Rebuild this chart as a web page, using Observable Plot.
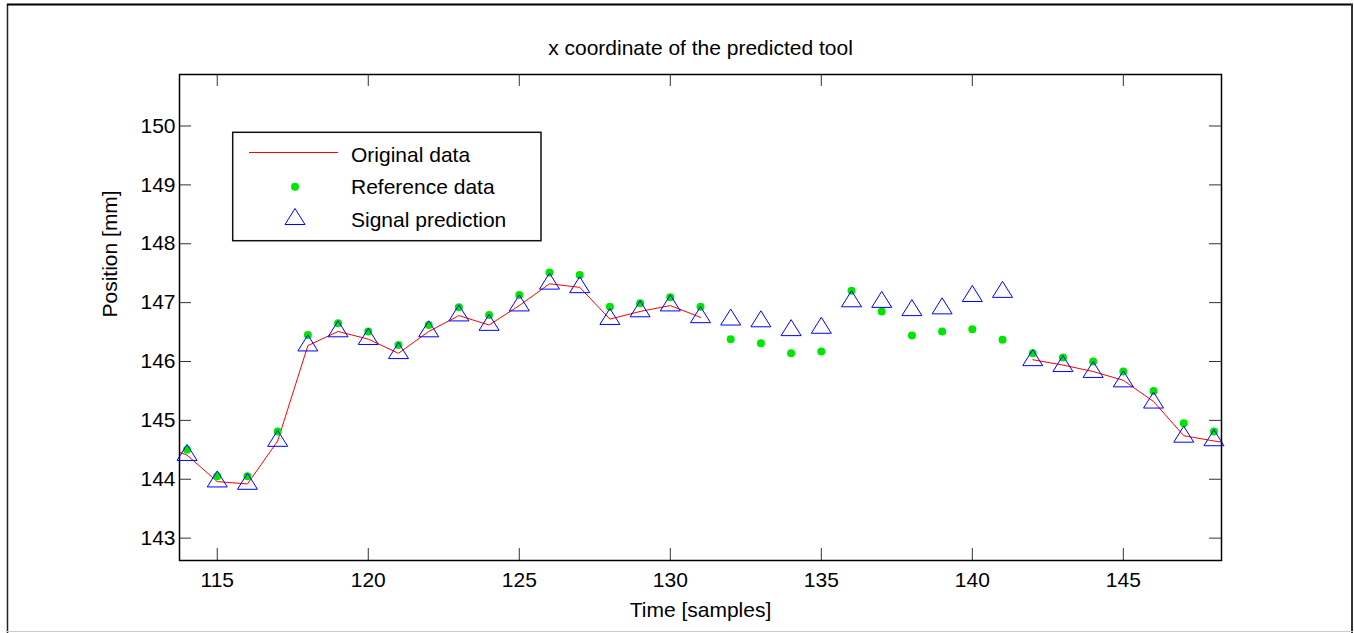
<!DOCTYPE html>
<html><head><meta charset="utf-8">
<script src="https://cdn.jsdelivr.net/npm/d3@7"></script>
<script src="https://cdn.jsdelivr.net/npm/@observablehq/plot@0.6"></script>
<style>
html,body{margin:0;padding:0;background:#fff;}
#wrap{position:relative;width:1354px;height:633px;overflow:hidden;font-family:"Liberation Sans",Arial,sans-serif;}
#chart svg{display:block}
#overlay{position:absolute;left:0;top:0;pointer-events:none}
</style></head><body>
<div id="wrap"><div id="chart"></div><svg id="overlay" width="1354" height="633"></svg></div>
<script>
const titleText = "x coordinate of the predicted tool";
const xLabel = "Time [samples]";
const yLabel = "Position [mm]";
const legendLabels = ["Original data", "Reference data", "Signal prediction"];
const xTicks = [115, 120, 125, 130, 135, 140, 145];
const yTicks = [143, 144, 145, 146, 147, 148, 149, 150];

// Original data (red line), samples 113..149, gap where not available
const originalSamples = [113,114,115,116,117,118,119,120,121,122,123,124,125,126,127,128,129,130,131,132,133,134,135,136,137,138,139,140,141,142,143,144,145,146,147,148,149];
const originalValues = [144.60,144.41,143.96,143.92,144.65,146.27,146.51,146.38,146.14,146.51,146.78,146.62,146.95,147.32,147.26,146.72,146.85,146.95,146.75,null,null,null,null,null,null,null,null,null,null,146.03,145.94,145.83,145.68,145.32,144.74,144.65,144.58];

// Reference data (green dots) and signal prediction (blue triangles), samples 114..148
const sampleTimes = [114,115,116,117,118,119,120,121,122,123,124,125,126,127,128,129,130,131,132,133,134,135,136,137,138,139,140,141,142,143,144,145,146,147,148];
const referenceValues = [144.50,144.05,144.05,144.81,146.45,146.65,146.51,146.28,146.62,146.92,146.79,147.13,147.51,147.47,146.93,146.99,147.09,146.93,146.38,146.31,146.14,146.17,147.20,146.85,146.44,146.51,146.55,146.37,146.14,146.07,146.00,145.83,145.50,144.95,144.81];
const predictionValues = [144.41,143.96,143.92,144.65,146.27,146.51,146.38,146.14,146.51,146.78,146.62,146.95,147.32,147.26,146.72,146.85,146.95,146.75,146.71,146.68,146.53,146.57,147.02,147.01,146.87,146.90,147.11,147.18,146.02,145.92,145.82,145.66,145.30,144.72,144.66];

const original = originalSamples.map((t, i) => ({t, v: originalValues[i] == null ? NaN : originalValues[i]}));
const reference = sampleTimes.map((t, i) => ({t, v: referenceValues[i]}));
const prediction = sampleTimes.map((t, i) => ({t, v: predictionValues[i]}));

const W = 1354, H = 633, mL = 179, mR = 133, mT = 74, mB = 73;
const fw = W - mL - mR, fh = H - mT - mB;
const FONT = '"Liberation Sans", Arial, sans-serif';
const triangle = {draw(ctx) { ctx.moveTo(0, -10.67); ctx.lineTo(10, 5.33); ctx.lineTo(-10, 5.33); ctx.closePath(); }};

const chart = Plot.plot({
  width: W, height: H,
  marginLeft: mL, marginRight: mR, marginTop: mT, marginBottom: mB,
  style: {fontFamily: FONT, fontSize: "21px", color: "#000", background: "#fff"},
  x: {domain: [113.75, 148.25]},
  y: {domain: [142.62, 150.875]},
  marks: [
    Plot.line(original, {x: "t", y: "v", stroke: "#ff0000", strokeWidth: 1, clip: true}),
    Plot.dot(reference, {x: "t", y: "v", r: 4, fill: "#00e600", stroke: "none"}),
    Plot.dot(prediction, {x: "t", y: "v", r: 9, symbol: triangle, stroke: "#0000ff", strokeWidth: 1, fill: "none"}),
    Plot.tickX(xTicks, {x: d => d, insetTop: fh - 12, stroke: "#333"}),
    Plot.tickX(xTicks, {x: d => d, insetBottom: fh - 12, stroke: "#333"}),
    Plot.tickY(yTicks, {y: d => d, insetRight: fw - 12, stroke: "#333"}),
    Plot.tickY(yTicks, {y: d => d, insetLeft: fw - 12, stroke: "#333"}),
    Plot.axisX({ticks: xTicks, tickSize: 0, tickPadding: 12, label: null, fontSize: 21}),
    Plot.axisY({ticks: yTicks, tickSize: 0, tickPadding: 4, label: null, fontSize: 21}),
    Plot.frame({stroke: "#000", strokeWidth: 1.5}),
    Plot.text([xLabel], {frameAnchor: "bottom", dy: 56, lineAnchor: "bottom", text: d => d, fontSize: 21, fill: "#000"}),
    Plot.text([yLabel], {frameAnchor: "left", dx: -63, rotate: -90, lineAnchor: "bottom", text: d => d, fontSize: 21, fill: "#000"}),
    Plot.text([titleText], {frameAnchor: "top", dy: -20, lineAnchor: "bottom", text: d => d, fontSize: 21, fill: "#000"})
  ]
});
document.getElementById("chart").appendChild(chart);

// Legend and outer border
const ov = d3.select("#overlay");
ov.append("line").attr("x1", 7.5).attr("x2", 7.5).attr("y1", 4).attr("y2", 633).attr("stroke", "#222").attr("stroke-width", 1.5);
ov.append("line").attr("x1", 7).attr("x2", 1353).attr("y1", 4.5).attr("y2", 4.5).attr("stroke", "#000").attr("stroke-width", 2);
ov.append("line").attr("x1", 1352).attr("x2", 1352).attr("y1", 4).attr("y2", 633).attr("stroke", "#333").attr("stroke-width", 2);
ov.append("line").attr("x1", 7).attr("x2", 1353).attr("y1", 631.5).attr("y2", 631.5).attr("stroke", "#ccc").attr("stroke-width", 1);

const lg = ov.append("g");
lg.append("rect").attr("x", 232.7).attr("y", 132.3).attr("width", 308.3).attr("height", 108.4)
  .attr("fill", "#fff").attr("stroke", "#111").attr("stroke-width", 1.5);
lg.append("line").attr("x1", 249).attr("x2", 338).attr("y1", 152.5).attr("y2", 152.5).attr("stroke", "#ff0000").attr("stroke-width", 1);
lg.append("circle").attr("cx", 295).attr("cy", 186.7).attr("r", 4).attr("fill", "#00e600");
lg.append("path").attr("d", "M295,208.5L305,224.5L285,224.5Z").attr("fill", "none").attr("stroke", "#0000ff").attr("stroke-width", 1);
const baselines = [161.5, 194, 226.5];
legendLabels.forEach((s, i) => {
  lg.append("text").attr("x", 351).attr("y", baselines[i]).attr("font-family", FONT).attr("font-size", 21).attr("fill", "#000").text(s);
});
</script>
</body></html>
